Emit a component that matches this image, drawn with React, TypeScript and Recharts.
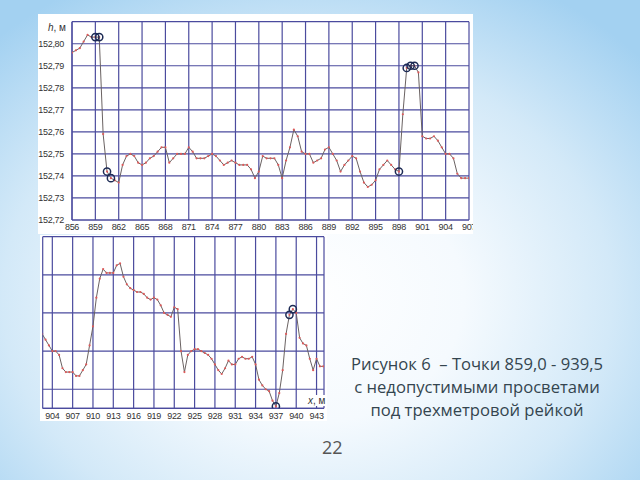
import { LineChart, Line, XAxis, YAxis, CartesianGrid } from 'recharts';

// profile stations, m (0.5 m step) and heights, m
const topStations = [
  856, 856.5, 857, 857.5, 858, 858.5, 859, 859.5, 860, 860.5,
  861, 861.5, 862, 862.5, 863, 863.5, 864, 864.5, 865, 865.5,
  866, 866.5, 867, 867.5, 868, 868.5, 869, 869.5, 870, 870.5,
  871, 871.5, 872, 872.5, 873, 873.5, 874, 874.5, 875, 875.5,
  876, 876.5, 877, 877.5, 878, 878.5, 879, 879.5, 880, 880.5,
  881, 881.5, 882, 882.5, 883, 883.5, 884, 884.5, 885, 885.5,
  886, 886.5, 887, 887.5, 888, 888.5, 889, 889.5, 890, 890.5,
  891, 891.5, 892, 892.5, 893, 893.5, 894, 894.5, 895, 895.5,
  896, 896.5, 897, 897.5, 898, 898.5, 899, 899.5, 900, 900.5,
  901, 901.5, 902, 902.5, 903, 903.5, 904, 904.5, 905, 905.5,
  906, 906.5, 907,
];
const topHeights = [
  152.796, 152.797, 152.798, 152.801, 152.804, 152.803, 152.803, 152.803, 152.759, 152.742,
  152.739, 152.738, 152.737, 152.745, 152.749, 152.75, 152.749, 152.746, 152.745, 152.746,
  152.748, 152.749, 152.751, 152.753, 152.753, 152.746, 152.748, 152.75, 152.75, 152.75,
  152.753, 152.751, 152.748, 152.748, 152.748, 152.749, 152.75, 152.749, 152.747, 152.745,
  152.746, 152.747, 152.746, 152.745, 152.745, 152.745, 152.743, 152.739, 152.742, 152.749,
  152.748, 152.748, 152.748, 152.745, 152.739, 152.747, 152.753, 152.761, 152.758, 152.751,
  152.75, 152.75, 152.746, 152.747, 152.748, 152.752, 152.753, 152.75, 152.747, 152.742,
  152.745, 152.747, 152.749, 152.748, 152.742, 152.737, 152.735, 152.736, 152.738, 152.743,
  152.745, 152.747, 152.745, 152.743, 152.742, 152.768, 152.789, 152.79, 152.79, 152.787,
  152.758, 152.757, 152.757, 152.758, 152.756, 152.753, 152.75, 152.75, 152.748, 152.741,
  152.739, 152.739, 152.739,
];
const topMarked = [859, 859.5, 860.5, 861, 898, 899, 899.5, 900];

const bottomStations = [
  902.5, 903, 903.5, 904, 904.5, 905, 905.5, 906, 906.5, 907,
  907.5, 908, 908.5, 909, 909.5, 910, 910.5, 911, 911.5, 912,
  912.5, 913, 913.5, 914, 914.5, 915, 915.5, 916, 916.5, 917,
  917.5, 918, 918.5, 919, 919.5, 920, 920.5, 921, 921.5, 922,
  922.5, 923, 923.5, 924, 924.5, 925, 925.5, 926, 926.5, 927,
  927.5, 928, 928.5, 929, 929.5, 930, 930.5, 931, 931.5, 932,
  932.5, 933, 933.5, 934, 934.5, 935, 935.5, 936, 936.5, 937,
  937.5, 938, 938.5, 939, 939.5, 940, 940.5, 941, 941.5, 942,
  942.5, 943, 943.5, 944,
];
const bottomHeights = [
  152.759, 152.756, 152.753, 152.75, 152.75, 152.748, 152.741, 152.739, 152.739, 152.739,
  152.737, 152.737, 152.74, 152.743, 152.753, 152.763, 152.778, 152.788, 152.793, 152.791,
  152.791, 152.791, 152.795, 152.796, 152.789, 152.785, 152.783, 152.782, 152.781, 152.781,
  152.78, 152.778, 152.777, 152.778, 152.777, 152.774, 152.77, 152.769, 152.768, 152.773,
  152.772, 152.75, 152.739, 152.748, 152.75, 152.751, 152.751, 152.75, 152.749, 152.748,
  152.746, 152.743, 152.74, 152.738, 152.741, 152.745, 152.743, 152.743, 152.746, 152.747,
  152.746, 152.746, 152.747, 152.743, 152.735, 152.732, 152.73, 152.729, 152.724, 152.721,
  152.728, 152.74, 152.759, 152.769, 152.772, 152.77, 152.757, 152.754, 152.753, 152.746,
  152.74, 152.746, 152.742, 152.742,
];
const bottomMarked = [937, 939, 939.5];

const topTicks = [856, 859, 862, 865, 868, 871, 874, 877, 880, 883, 886, 889, 892, 895, 898, 901, 904, 907];
const bottomTicks = [904, 907, 910, 913, 916, 919, 922, 925, 928, 931, 934, 937, 940, 943];
const heightTicks = [152.72, 152.73, 152.74, 152.75, 152.76, 152.77, 152.78, 152.79, 152.8, 152.81];

const gridColor = '#4b4b9e';
const tickFont = {
  fontSize: 9,
  fill: '#333',
  fontFamily: '"Liberation Sans", sans-serif',
  letterSpacing: -0.3,
};

function buildRows(stations: number[], heights: number[], marked: number[]) {
  return stations.map((x, i) => ({
    x,
    h: heights[i],
    m: marked.includes(x) ? heights[i] : null,
  }));
}

const topRows = buildRows(topStations, topHeights, topMarked);
const bottomRows = buildRows(bottomStations, bottomHeights, bottomMarked);

const fmtH = (v: number) => (v > 152.805 ? '' : v.toFixed(2).replace('.', ','));

export default function App() {
  const lineProps = {
    type: 'linear' as const,
    stroke: '#6a6262',
    strokeWidth: 1,
    dot: { r: 1.1, fill: '#dd5a5a', stroke: 'none' },
    isAnimationActive: false,
  };
  const markProps = {
    type: 'linear' as const,
    stroke: 'none',
    dot: { r: 3.6, fill: 'none', stroke: '#1d2b55', strokeWidth: 1.5 },
    connectNulls: false,
    isAnimationActive: false,
  };

  return (
    <div
      style={{
        position: 'absolute',
        left: 0,
        top: 0,
        width: 640,
        height: 480,
        overflow: 'hidden',
        background:
          'radial-gradient(ellipse 70% 75% at 48% 62%, #ffffff 0%, #f5fafe 35%, #d3e9f8 68%, #a3d1f1 100%)',
      }}
    >
      <div style={{ position: 'absolute', left: 38, top: 14, width: 435, height: 220, background: '#fff', overflow: 'hidden' }}>
        <LineChart width={435} height={220} data={topRows} margin={{ top: 7.7, right: 4, bottom: 1, left: 0 }}>
          <CartesianGrid stroke={gridColor} strokeWidth={1.2} />
          <XAxis
            dataKey="x"
            type="number"
            domain={[856, 907]}
            ticks={topTicks}
            interval={0}
            height={13}
            tickLine={false}
            axisLine={{ stroke: gridColor, strokeWidth: 1.2 }}
            tickMargin={-2}
            tick={tickFont}
            allowDataOverflow
          />
          <YAxis
            type="number"
            domain={[152.72, 152.81]}
            ticks={heightTicks}
            interval={0}
            width={34}
            tickLine={false}
            axisLine={{ stroke: gridColor, strokeWidth: 1.2 }}
            tickMargin={2}
            tick={tickFont}
            tickFormatter={fmtH}
            allowDataOverflow
          />
          <Line dataKey="h" {...lineProps} />
          <Line dataKey="m" {...markProps} />
        </LineChart>
        <div style={{ position: 'absolute', left: 10, top: 8, fontSize: 10, color: '#333', fontFamily: tickFont.fontFamily }}>
          <i>h</i>, м
        </div>
      </div>

      <div style={{ position: 'absolute', left: 40, top: 235, width: 287, height: 186, background: '#fff', overflow: 'hidden' }}>
        <LineChart width={287} height={187} data={bottomRows} margin={{ top: 1.7, right: 3, bottom: 4, left: 2.7 }}>
          <CartesianGrid stroke={gridColor} strokeWidth={1.2} />
          <XAxis
            dataKey="x"
            type="number"
            domain={[902.58, 944.1]}
            ticks={bottomTicks}
            interval={0}
            height={9.7}
            tickLine={false}
            axisLine={{ stroke: gridColor, strokeWidth: 1.2 }}
            tickMargin={-2}
            tick={tickFont}
            allowDataOverflow
          />
          <YAxis type="number" domain={[152.72, 152.81]} ticks={heightTicks} hide allowDataOverflow />
          <Line dataKey="h" {...lineProps} />
          <Line dataKey="m" {...markProps} />
        </LineChart>
        <div
          style={{
            position: 'absolute',
            left: 267,
            top: 160,
            fontSize: 10,
            color: '#333',
            background: '#fff',
            padding: '0 1px',
            fontFamily: tickFont.fontFamily,
          }}
        >
          <i>x</i>, м
        </div>
      </div>

      <div
        style={{
          position: 'absolute',
          left: 327,
          top: 352,
          width: 300,
          textAlign: 'center',
          fontSize: 16.6,
          lineHeight: '23px',
          color: '#34454f',
          fontFamily: '"Open Sans", sans-serif',
          whiteSpace: 'pre',
        }}
      >
        {'Рисунок 6  – Точки 859,0 - 939,5\nс недопустимыми просветами\nпод трехметровой рейкой'}
      </div>

      <div
        style={{
          position: 'absolute',
          left: 322,
          top: 435,
          fontSize: 18,
          color: '#555',
          fontFamily: '"Open Sans", sans-serif',
        }}
      >
        22
      </div>
    </div>
  );
}
